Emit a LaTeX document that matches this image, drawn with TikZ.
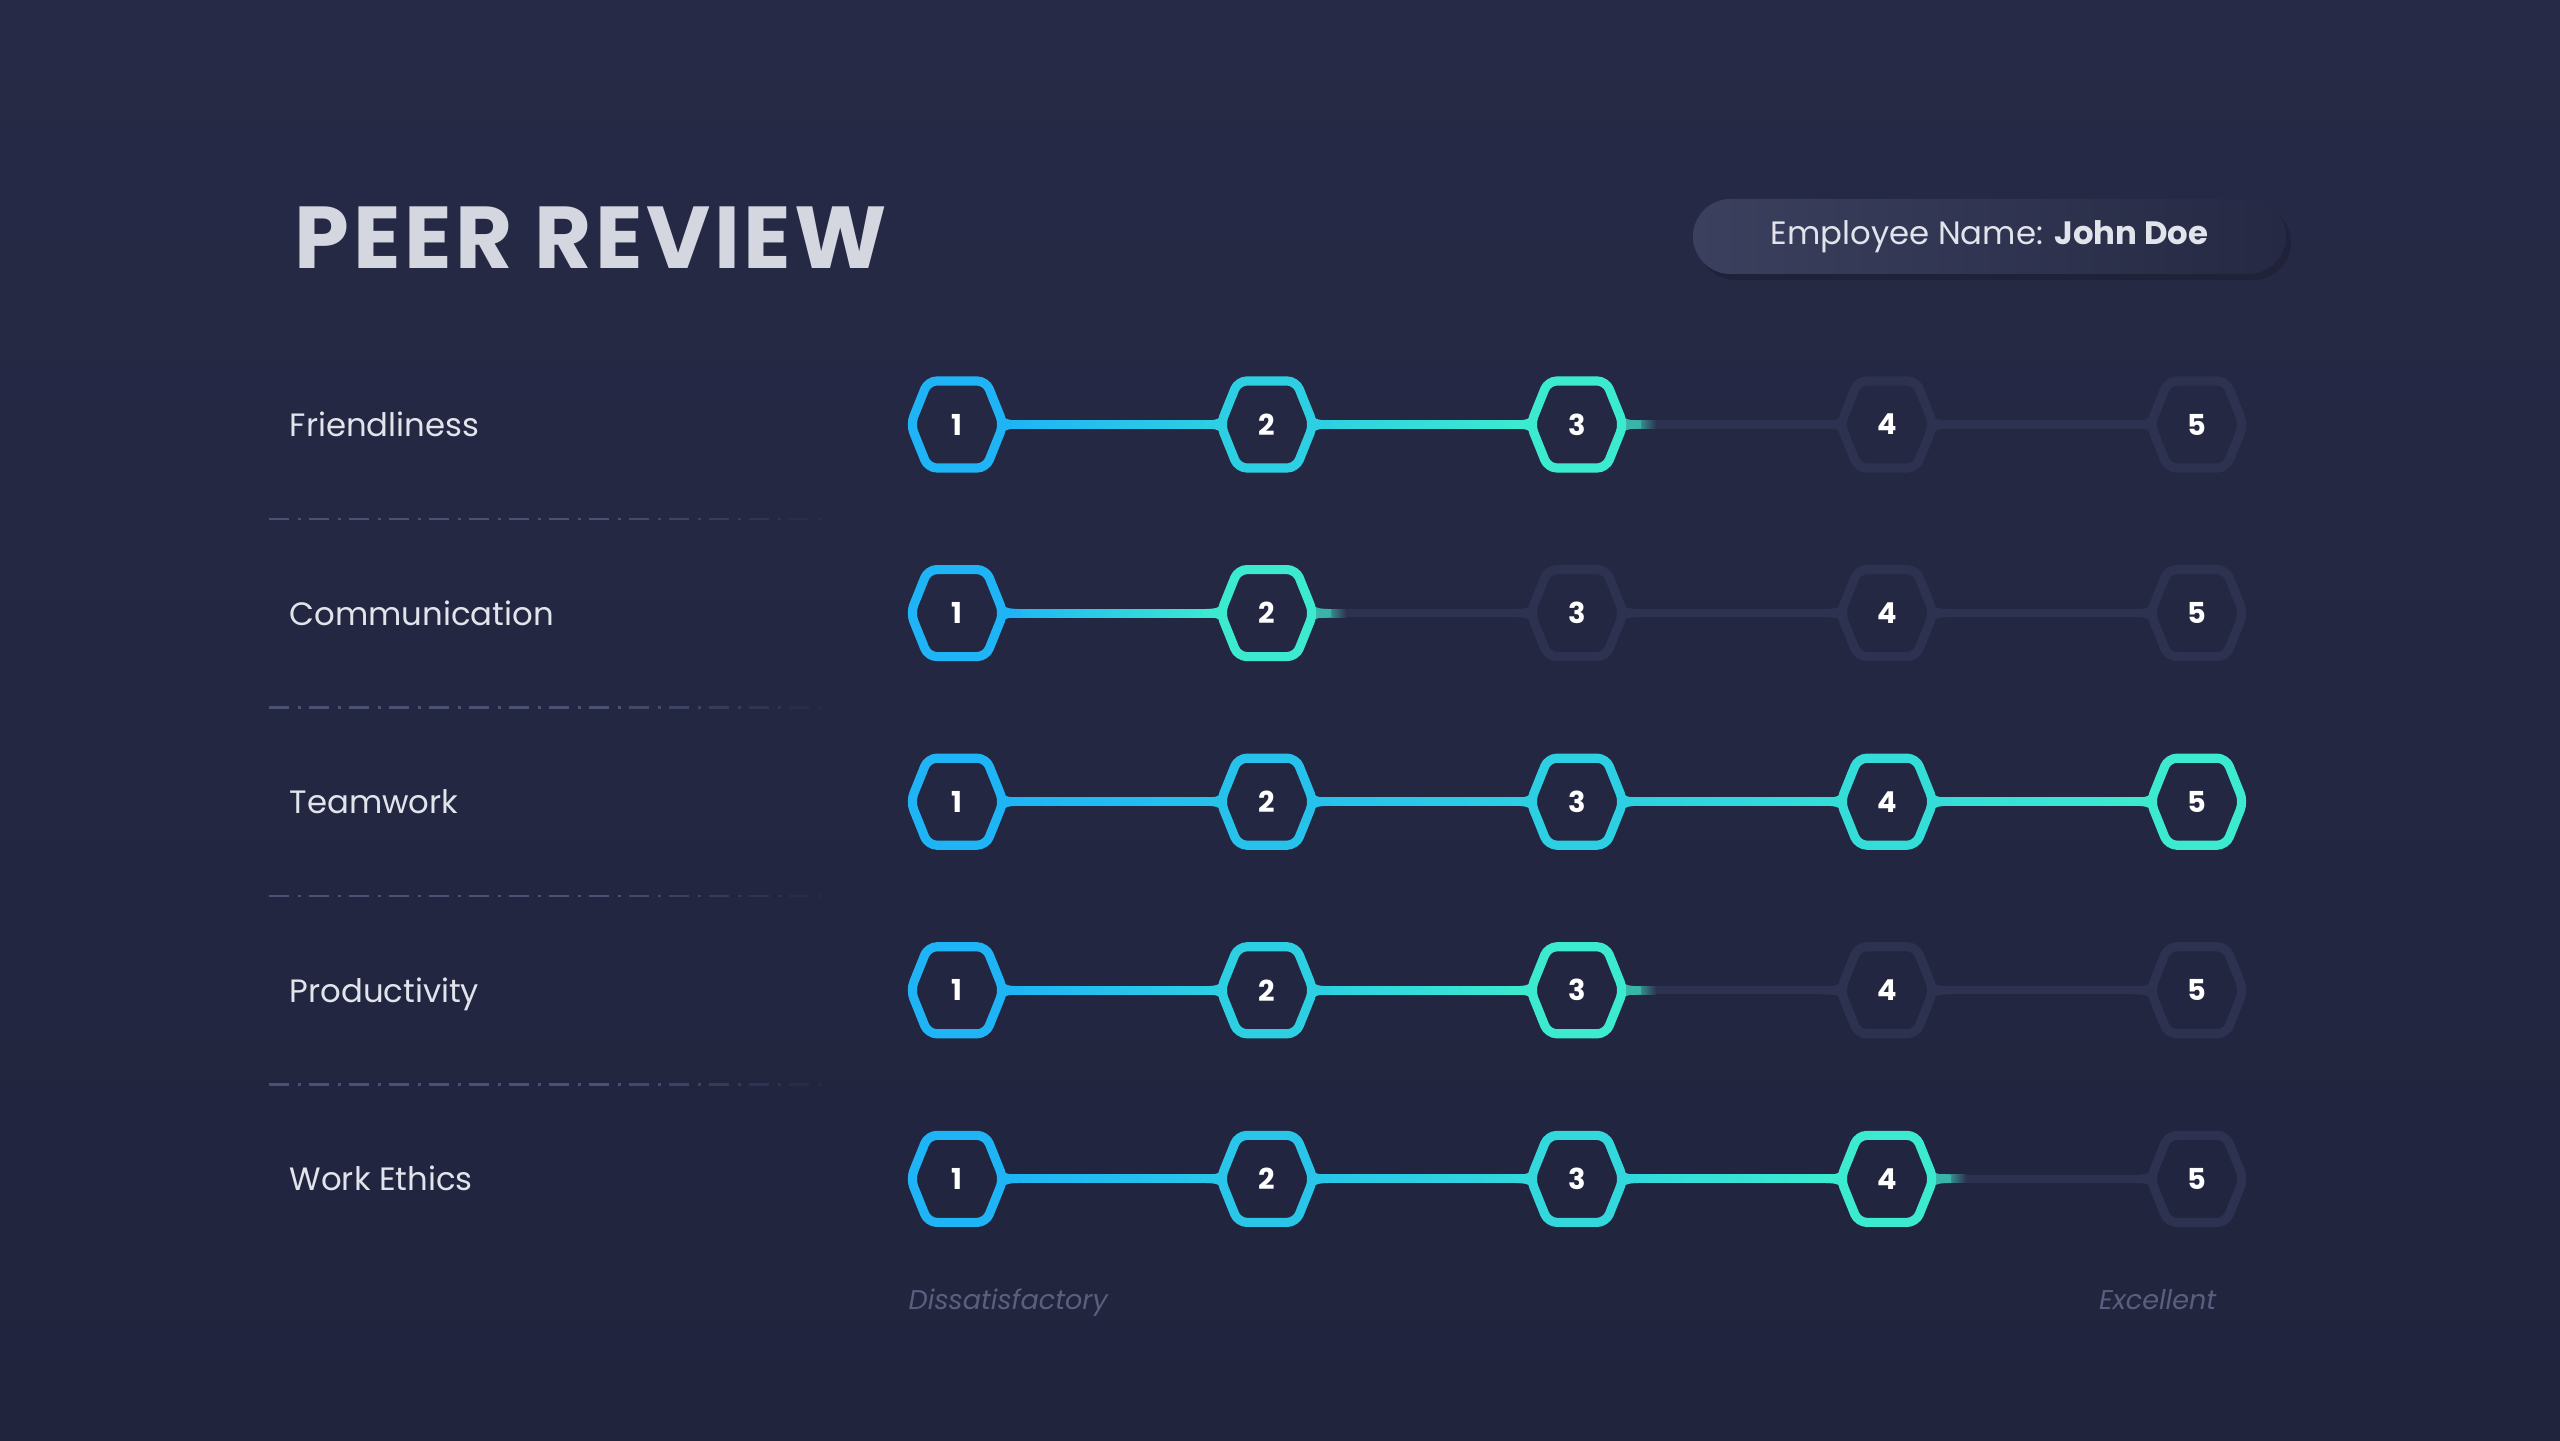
\documentclass[tikz,border=0pt]{standalone}
\usepackage{fontspec}
\setmainfont{Poppins}
\usepackage{xcolor}
\usepackage{tikz}
\usetikzlibrary{calc, shadows}

\definecolor{bgtop}{HTML}{262A46}
\definecolor{bgbot}{HTML}{20243D}
\definecolor{skyb}{HTML}{1FB4F6}
\definecolor{aqua}{HTML}{3CEBCF}
\definecolor{offc}{HTML}{2D3250}
\definecolor{labelc}{HTML}{E2E4EC}
\definecolor{titlec}{HTML}{D4D7DF}
\definecolor{sepc}{HTML}{4B5172}
\definecolor{hintc}{HTML}{5A5F7F}
\definecolor{pillL}{HTML}{3B405E}
\definecolor{pillR}{HTML}{252943}

\tikzset{
  hexnum/.style={minimum width=0.93cm, minimum height=0.87cm, inner sep=0pt, text=white, font=\bfseries\fontsize{8.2}{9}\selectfont},
  hexline/.style={line width=2.6pt, rounded corners=2.5pt},
  offline/.style={offc, line width=2.3pt},
  rowlabel/.style={anchor=base west, inner sep=0pt, text=labelc, font=\fontsize{9.2}{11}\selectfont},
  sepline/.style={sepc, line width=0.7pt},
  hint/.style={inner sep=0pt, text=hintc, font=\itshape\fontsize{7.7}{10}\selectfont},
  pill/.style={rounded corners=0.375cm, minimum width=5.93cm, minimum height=0.75cm, left color=pillL, right color=pillR, text=labelc, font=\fontsize{9.2}{11}\selectfont, drop shadow={shadow xshift=0.05cm, shadow yshift=-0.06cm, opacity=0.15, fill=black}}
}

\newcommand\hexat[2]{\draw[hexline, #2, shift={(#1)}] (0,0.435) -- (0.29,0.435) -- (0.465,0) -- (0.29,-0.435) -- (-0.29,-0.435) -- (-0.465,0) -- (-0.29,0.435) -- cycle;}
\newcommand\flare[3]{\fill[#3, shift={(#1)}, xscale=#2] (-0.06,0.15) .. controls (0.01,0.045) .. (0.17,0.04) -- (0.17,-0.04) .. controls (0.01,-0.045) .. (-0.06,-0.15) -- (0,0) -- cycle;}

\begin{document}
\begin{tikzpicture}
  \useasboundingbox (0,0) rectangle (25.6,14.4);
  \shade[top color=bgtop, bottom color=bgbot] (0,0) rectangle (25.6,14.4);

  \node[anchor=base west, inner sep=0pt, text=titlec, font=\bfseries\fontsize{25}{30}\selectfont\addfontfeature{LetterSpace=4}] (title) at (2.94,11.71) {PEER REVIEW};
  \node[pill] (emp) at (19.895,12.035) {Employee Name: \textbf{John Doe}};

  % dashed rules between rows
  \foreach \k in {1,...,4}{
    \pgfmathsetmacro\ys{10.155-1.886*(\k-0.5)}
    \foreach \d in {0,...,13}{
      \pgfmathsetmacro\op{min(1,(14-\d)/6)}
      \draw[sepline, opacity=\op] (2.69+0.4*\d,\ys) -- ++(0.2,0) ++(0.09,0) -- ++(0.03,0);
    }
  }

  \foreach \lab/\sc [count=\row] in {Friendliness/3, Communication/2, Teamwork/5, Productivity/3, Work Ethics/4}{
    \pgfmathsetmacro\y{10.155-1.886*(\row-1)}
    \node[rowlabel] (lab\row) at (2.89,\y-0.12) {\lab};
    \foreach \k in {1,...,5}
      \node[hexnum] (h\row-\k) at ({9.57+3.1*(\k-1)},\y) {\k};
    % links
    \foreach \k [evaluate=\k as \nx using int(\k+1)] in {1,...,4}{
      \ifnum\nx>\sc
        \draw[offline] (h\row-\k.east) -- (h\row-\nx.west);
        \flare{h\row-\k.east}{1}{offc}
        \flare{h\row-\nx.west}{-1}{offc}
      \else
        \pgfmathtruncatemacro\fa{100*(\k-1)/(\sc-1)}
        \pgfmathtruncatemacro\fb{100*(\nx-1)/(\sc-1)}
        \shade[left color=aqua!\fa!skyb, right color=aqua!\fb!skyb] ($(h\row-\k.east)+(0,-0.04)$) rectangle ($(h\row-\nx.west)+(0,0.04)$);
        \flare{h\row-\k.east}{1}{aqua!\fa!skyb}
        \flare{h\row-\nx.west}{-1}{aqua!\fb!skyb}
      \fi
    }
    \ifnum\sc<5
      \shade[left color=aqua, right color=offc] ($(h\row-\sc.east)+(0,-0.04)$) rectangle ($(h\row-\sc.east)+(0.32,0.04)$);
      \flare{h\row-\sc.east}{1}{aqua!70!offc}
    \fi
    \foreach \k in {1,...,5}{
      \ifnum\k>\sc
        \hexat{h\row-\k}{offc}
      \else
        \pgfmathtruncatemacro\fa{100*(\k-1)/(\sc-1)}
        \hexat{h\row-\k}{aqua!\fa!skyb}
      \fi
    }
  }

  \node[hint, anchor=base west] (low) at (9.08,1.31) {Dissatisfactory};
  \node[hint, anchor=base east] (high) at (22.17,1.31) {Excellent};
\end{tikzpicture}
\end{document}
